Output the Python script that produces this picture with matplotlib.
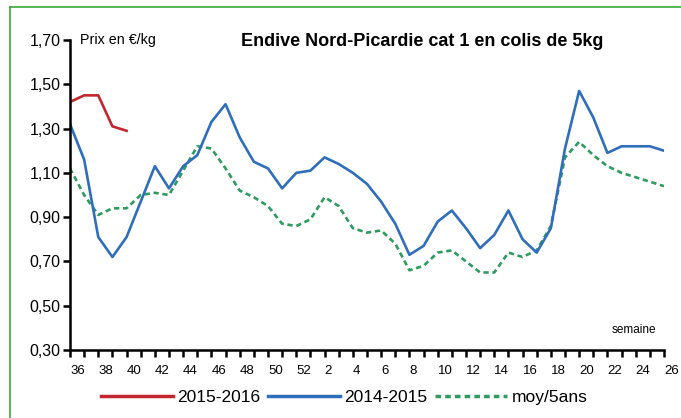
import numpy as np
import matplotlib.pyplot as plt
from matplotlib.lines import Line2D
import matplotlib.transforms as mtransforms

plt.rcParams['font.family'] = ['Liberation Sans', 'DejaVu Sans']

# weeks 36..52 then 1..26
weeks = list(range(36, 53)) + list(range(1, 27))
tick_labels = [str(w) if w % 2 == 0 else '' for w in weeks]

prix_2015_2016 = [1.42, 1.45, 1.45, 1.31, 1.29]

prix_2014_2015 = [1.32, 1.16, 0.81, 0.72, 0.81, 0.97, 1.13, 1.03, 1.13, 1.18,
                  1.33, 1.41, 1.26, 1.15, 1.12, 1.03, 1.10, 1.11, 1.17, 1.14,
                  1.10, 1.05, 0.97, 0.87, 0.73, 0.77, 0.88, 0.93, 0.85, 0.76,
                  0.82, 0.93, 0.80, 0.74, 0.85, 1.21, 1.47, 1.35, 1.19, 1.22,
                  1.22, 1.22, 1.20]

moy_5ans = [1.12, 1.00, 0.91, 0.94, 0.94, 1.00, 1.01, 1.00, 1.11, 1.22,
            1.21, 1.12, 1.02, 0.99, 0.95, 0.87, 0.86, 0.89, 0.99, 0.95,
            0.85, 0.83, 0.84, 0.78, 0.66, 0.68, 0.74, 0.75, 0.70, 0.65,
            0.65, 0.74, 0.72, 0.75, 0.86, 1.17, 1.24, 1.18, 1.13, 1.10,
            1.08, 1.06, 1.04]

red = '#C4262E'
blue = '#2F6EBA'
green = '#2E9B5F'

fig = plt.figure(figsize=(6.81, 4.18), dpi=100)
ax = fig.add_axes([70 / 681, 1 - 350 / 418, 594 / 681, 310 / 418])

x = np.arange(len(weeks))
ax.plot(x, moy_5ans, color=green, lw=1.9, linestyle=(0, (2, 1.4)))
ax.plot(x, prix_2014_2015, color=blue, lw=1.9)
ax.plot(x[:len(prix_2015_2016)], prix_2015_2016, color=red, lw=1.9)

ax.set_xlim(0, len(weeks) - 1)
ax.set_ylim(0.30, 1.70)
yt = np.arange(0.30, 1.71, 0.20)
ax.set_yticks(yt)
ax.set_yticklabels([f'{v:.2f}'.replace('.', ',') for v in yt], fontsize=11.5)
ax.set_xticks(x)
ax.set_xticklabels(tick_labels, fontsize=9.5, ha='left')
offset = mtransforms.ScaledTranslation(0.5 / 72, 0, fig.dpi_scale_trans)
for lab in ax.get_xticklabels():
    lab.set_transform(lab.get_transform() + offset)

for s in ['top', 'right']:
    ax.spines[s].set_visible(False)
for s in ['left', 'bottom']:
    ax.spines[s].set_linewidth(1.8)
    ax.spines[s].set_color('black')
ax.tick_params(axis='both', direction='out', length=5, width=1.8, colors='black')
ax.tick_params(axis='x', pad=6)
ax.tick_params(axis='y', pad=2)

ax.text(0.017, 1.0, 'Prix en €/kg', transform=ax.transAxes, fontsize=10.3,
        va='center', ha='left')
fig.text(422 / 681, 1 - 41 / 418, 'Endive Nord-Picardie cat 1 en colis de 5kg',
         fontsize=13, fontweight='bold', ha='center', va='center')
fig.text(634 / 681, 1 - 330 / 418, 'semaine', fontsize=8.5, ha='center', va='center')

handles = [Line2D([], [], color=red, lw=2.5),
           Line2D([], [], color=blue, lw=2.5),
           Line2D([], [], color=green, lw=2.5, linestyle=(0, (1.6, 1.2)))]
fig.legend(handles, ['2015-2016', '2014-2015', 'moy/5ans'], loc='center',
           bbox_to_anchor=(344 / 681, 1 - 397 / 418), ncol=3, frameon=False,
           fontsize=12.5, handlelength=4.15, handletextpad=0.25, columnspacing=0.45)

# green frame
fig.add_artist(Line2D([10 / 681, 10 / 681], [0, 1 - 7 / 418], color='#3AAA3A',
                      lw=1.2, transform=fig.transFigure))
fig.add_artist(Line2D([10 / 681, 1], [1 - 7 / 418, 1 - 7 / 418], color='#3AAA3A',
                      lw=1.2, transform=fig.transFigure))

fig.savefig('out.png', dpi=100)
